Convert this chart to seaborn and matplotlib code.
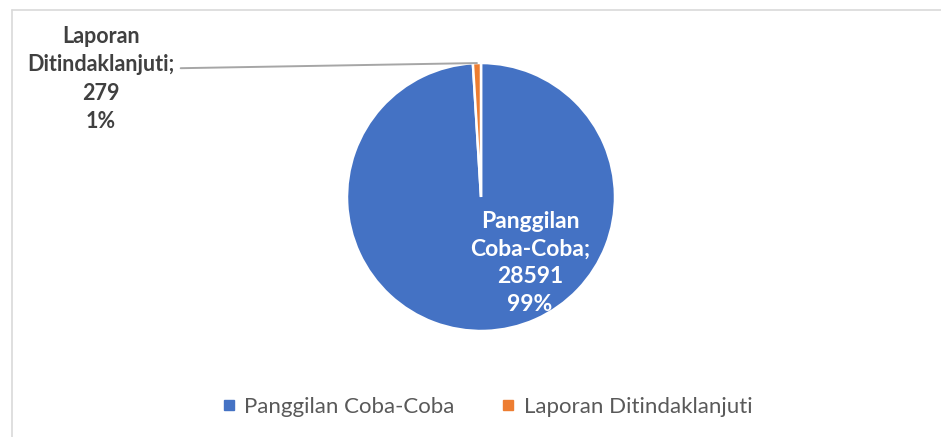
import matplotlib
matplotlib.use("Agg")
import matplotlib.pyplot as plt
import seaborn as sns
import numpy as np
from matplotlib.lines import Line2D

categories = ["Panggilan Coba-Coba", "Laporan Ditindaklanjuti"]
values = [28591, 279]
pct_labels = ["99%", "1%"]
label_names = ["Panggilan\nCoba-Coba;", "Laporan\nDitindaklanjuti;"]

sns.set_theme(style="white")
plt.rcParams['font.family'] = ['Lato', 'DejaVu Sans']
colors = ["#4472C4", "#ED7D31"]

W, H = 941, 437
fig = plt.figure(figsize=(W / 100, H / 100), dpi=100)
fig.patch.set_facecolor("white")

# border
fig.add_artist(Line2D([12 / W, 1], [1 - 10 / H, 1 - 10 / H], transform=fig.transFigure, color="#D9D9D9", lw=1.2))
fig.add_artist(Line2D([12 / W, 12 / W], [0, 1 - 10 / H], transform=fig.transFigure, color="#D9D9D9", lw=1.2))

cx, cy, r = 481, 197, 134
ax = fig.add_axes([(cx - r) / W, (H - cy - r) / H, 2 * r / W, 2 * r / H])
wedges, _ = ax.pie(values, colors=colors, startangle=90, counterclock=False,
                   radius=1, wedgeprops=dict(edgecolor="white", linewidth=1.8))
ax.set_xlim(-1, 1)
ax.set_ylim(-1, 1)
ax.set_aspect("auto")
ax.axis("off")

# label for big slice (inside)
fig.text(530 / W, 1 - 263 / H, f"{label_names[0]}\n{values[0]}\n{pct_labels[0]}",
         ha="center", va="center", color="white", fontsize=16.5, fontweight="bold",
         linespacing=1.4)

# label for small slice (outside with leader)
w = wedges[1]
ang = np.deg2rad((w.theta1 + w.theta2) / 2)
ax.annotate(f"{label_names[1]}\n{values[1]}\n{pct_labels[1]}",
            xy=(np.cos(ang) * 1.0, np.sin(ang) * 1.0), xycoords="data",
            xytext=(101 / W, 1 - 79 / H), textcoords="figure fraction",
            ha="center", va="center", color="#404040", fontsize=15.5, fontweight="bold",
            linespacing=1.45,
            arrowprops=dict(arrowstyle="-", color="#A6A6A6", lw=1.4,
                            shrinkA=2, shrinkB=0, relpos=(1.0, 0.6)))

handles = [Line2D([0], [0], marker="s", linestyle="", markersize=7,
                  markerfacecolor=c, markeredgecolor=c) for c in colors]
fig.legend(handles, categories, loc="center", bbox_to_anchor=(486 / W, 30 / H),
           ncol=2, frameon=False, fontsize=16, labelcolor="#595959",
           handletextpad=0.3, columnspacing=2.0, handlelength=0.8)

fig.savefig("out.png", dpi=100, facecolor="white")
